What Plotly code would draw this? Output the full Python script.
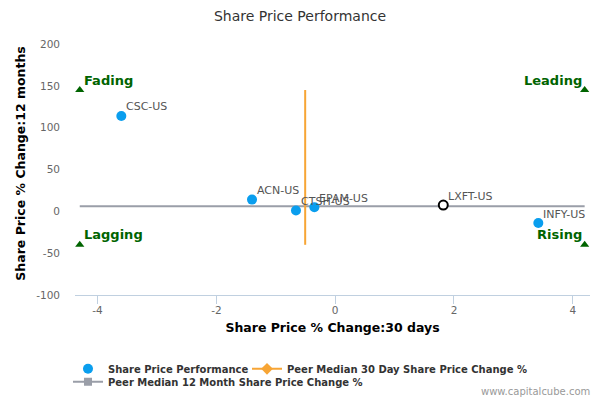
import plotly.graph_objects as go

# Data
tickers = ["CSC-US", "ACN-US", "CTSH-US", "EPAM-US", "INFY-US"]
chg_30d = [-3.60, -1.40, -0.66, -0.35, 3.42]
chg_12m = [114, 14, 1, 5, -14]

focus_ticker = ["LXFT-US"]
focus_30d = [1.82]
focus_12m = [7.5]

peer_median_30d = -0.505
peer_median_12m = 6
x_bounds = [-4.3, 4.2]
y_bounds = [-40, 145]

quadrants = ["Fading", "Leading", "Lagging", "Rising"]
quad_x = [x_bounds[0], x_bounds[1], x_bounds[0], x_bounds[1]]
quad_y = [y_bounds[1], y_bounds[1], y_bounds[0], y_bounds[0]]

x_ticks = [-4, -2, 0, 2, 4]
x_tick_labels = ["-4", "-2", "0", "2", "4"]
y_ticks = [-100, -50, 0, 50, 100, 150, 200]
y_tick_labels = ["-100", "-50", "0", "50", "100", "150", "200"]

FONT = "DejaVu Sans"
BLUE = "#0A9EEE"
ORANGE = "#F7A535"
GRAY = "#9A9EA8"
GREEN = "#006400"

fig = go.Figure()

# Peer median 12 month (horizontal line)
fig.add_trace(go.Scatter(
    x=x_bounds, y=[peer_median_12m, peer_median_12m], mode="lines",
    line=dict(color=GRAY, width=2), showlegend=False, hoverinfo="skip"))
# Peer median 30 day (vertical line)
fig.add_trace(go.Scatter(
    x=[peer_median_30d, peer_median_30d], y=y_bounds, mode="lines",
    line=dict(color=ORANGE, width=2), showlegend=False, hoverinfo="skip"))

# Quadrant markers
fig.add_trace(go.Scatter(
    x=quad_x, y=quad_y, mode="markers",
    marker=dict(symbol="triangle-up", size=8, color=GREEN),
    showlegend=False, hoverinfo="skip"))

# Peers
fig.add_trace(go.Scatter(
    x=chg_30d, y=chg_12m, mode="markers",
    marker=dict(size=10, color=BLUE),
    name="Share Price Performance", legend="legend"))

# Focus company
fig.add_trace(go.Scatter(
    x=focus_30d, y=focus_12m, mode="markers",
    marker=dict(size=9, color="white", line=dict(color="black", width=2)),
    showlegend=False))

# Legend entries
fig.add_trace(go.Scatter(
    x=[None], y=[None], mode="lines+markers",
    line=dict(color=ORANGE, width=2),
    marker=dict(symbol="diamond", size=9, color=ORANGE),
    name="Peer Median 30 Day Share Price Change %", legend="legend2"))
fig.add_trace(go.Scatter(
    x=[None], y=[None], mode="lines+markers",
    line=dict(color=GRAY, width=2),
    marker=dict(symbol="square", size=8, color=GRAY),
    name="Peer Median 12 Month Share Price Change %", legend="legend3"))

annotations = []
# Point labels
for name, px, py in zip(tickers + focus_ticker, chg_30d + focus_30d,
                        chg_12m + focus_12m):
    annotations.append(dict(
        x=px, y=py, xref="x", yref="y", text=name, showarrow=False,
        xanchor="left", yanchor="middle", xshift=3, yshift=9,
        font=dict(family=FONT, size=11, color="#555555")))
# Quadrant labels
for name, qx, qy in zip(quadrants, quad_x, quad_y):
    annotations.append(dict(
        x=qx, y=qy, xref="x", yref="y", text="<b>%s</b>" % name,
        showarrow=False, xanchor="left" if qx < 0 else "right",
        yanchor="middle", xshift=2 if qx < 0 else -1, yshift=10,
        font=dict(family=FONT, size=13, color=GREEN)))
# Y axis title
annotations.append(dict(
    x=-0.105, y=0.523, xref="paper", yref="paper",
    text="<b>Share Price % Change:12 months</b>", textangle=-90,
    showarrow=False, xanchor="center", yanchor="middle",
    font=dict(family=FONT, size=12.5, color="black")))
annotations.append(dict(
    x=1.004, y=-0.386, xref="paper", yref="paper", text="www.capitalcube.com",
    showarrow=False, xanchor="right", yanchor="middle",
    font=dict(family=FONT, size=10, color="#999999")))

legend_common = dict(orientation="h", xanchor="left", yanchor="middle",
                     font=dict(family=FONT, size=10, color="#333333",
                               weight="bold"),
                     bgcolor="rgba(0,0,0,0)", itemwidth=30)

fig.update_layout(
    width=600, height=406,
    margin=dict(l=75, r=10, t=44, b=107),
    paper_bgcolor="white", plot_bgcolor="white",
    font=dict(family=FONT),
    title=dict(text="Share Price Performance", x=0.5, xanchor="center",
               y=0.96, yanchor="middle", yref="container",
               font=dict(family=FONT, size=14, color="#333333")),
    xaxis=dict(range=[-4.38, 4.29], tickvals=x_ticks, ticktext=x_tick_labels,
               showgrid=False,
               zeroline=False, showline=True, linecolor="#C0D0E0", linewidth=1,
               ticks="outside", ticklen=8, tickcolor="#C0D0E0",
               ticklabelstandoff=-3,
               tickfont=dict(family=FONT, size=10.5, color="#666666"),
               title=dict(text="<b>Share Price % Change:30 days</b>",
                          font=dict(family=FONT, size=12.5, color="black"),
                          standoff=8)),
    yaxis=dict(range=[-100, 200], tickvals=y_ticks, ticktext=y_tick_labels,
               showgrid=False,
               zeroline=False, showline=False, ticks="",
               ticklabelstandoff=14,
               tickfont=dict(family=FONT, size=10.5, color="#666666")),
    legend=dict(x=-0.0136, y=-0.294, **legend_common),
    legend2=dict(x=0.334, y=-0.294, **legend_common),
    legend3=dict(x=-0.0136, y=-0.346, **legend_common),
    annotations=annotations,
    showlegend=True,
)

fig.write_html("out.html", config={"displayModeBar": False},
               post_script="document.body.style.margin='0';")
